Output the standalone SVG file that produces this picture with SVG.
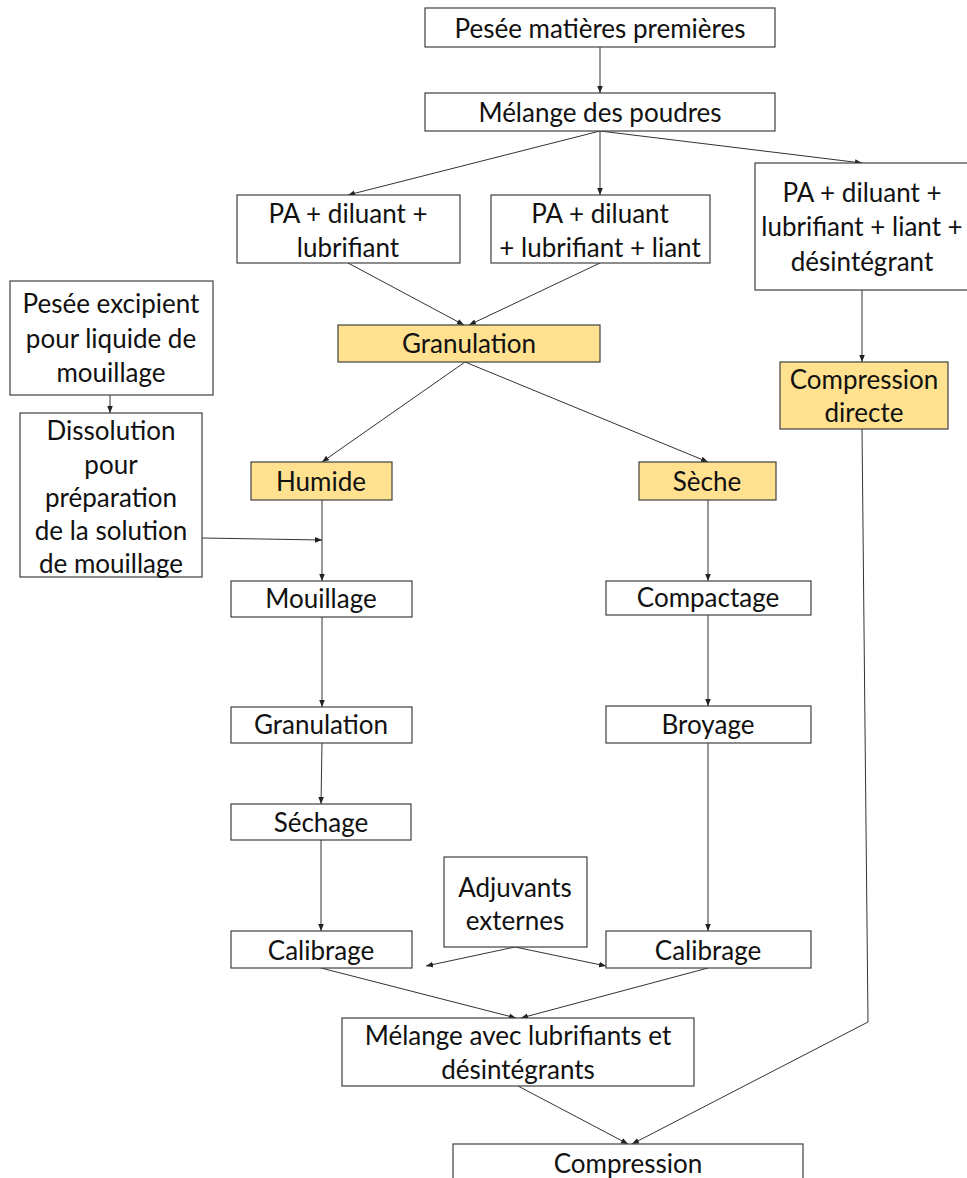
<svg xmlns="http://www.w3.org/2000/svg" width="967" height="1178" viewBox="0 0 967 1178">
<style>
.b{fill:#fff;stroke:#404040;stroke-width:1.2}
.y{fill:#FFE18F;stroke:#404040;stroke-width:1.2}
text{font-family:Lato,"Open Sans","Liberation Sans",sans-serif;font-size:26px;fill:#111;text-anchor:middle;dominant-baseline:central}
.c path,.c line,.c polyline{stroke:#333;stroke-width:1;fill:none;marker-end:url(#a)}
</style>
<defs>
<marker id="a" viewBox="0 0 10 10" refX="10" refY="5" markerWidth="7" markerHeight="7" markerUnits="userSpaceOnUse" orient="auto">
<path d="M0,1 L10,5 L0,9 z" fill="#222"/>
</marker>
</defs>
<rect width="967" height="1178" fill="#fff"/>
<g class="c" id="connectors">
<line x1="600" y1="47" x2="600" y2="93"/>
<line x1="600" y1="131" x2="348" y2="195"/>
<line x1="600" y1="131" x2="600" y2="195"/>
<line x1="600" y1="131" x2="862" y2="163"/>
<line x1="348" y1="263" x2="464" y2="325"/>
<line x1="600" y1="263" x2="469" y2="325"/>
<line x1="862" y1="290" x2="862" y2="362"/>
<line x1="465" y1="362" x2="322" y2="462"/>
<line x1="465" y1="362" x2="708" y2="462"/>
<line x1="110" y1="395" x2="110" y2="413"/>
<line x1="202" y1="538" x2="322" y2="540"/>
<line x1="322" y1="500" x2="322" y2="581"/>
<line x1="708" y1="500" x2="708" y2="581"/>
<line x1="322" y1="617" x2="322" y2="707"/>
<line x1="708" y1="615" x2="708" y2="706"/>
<line x1="322" y1="743" x2="321" y2="804"/>
<line x1="708" y1="743" x2="708" y2="931"/>
<line x1="321" y1="840" x2="321" y2="931"/>
<line x1="321" y1="968" x2="516" y2="1018"/>
<line x1="708" y1="968" x2="521" y2="1018"/>
<line x1="515" y1="947" x2="426" y2="966"/>
<line x1="515" y1="947" x2="606" y2="966"/>
<line x1="518" y1="1086" x2="628" y2="1144"/>
<polyline points="862,429 868,1022 632,1144"/>
</g>
<g id="n1"><rect class="b" x="425" y="8" width="350" height="39"/><text x="600" y="28">Pesée matières premières</text></g>
<g id="n2"><rect class="b" x="425" y="93" width="350" height="38"/><text x="600" y="112">Mélange des poudres</text></g>
<g id="n3"><rect class="b" x="237" y="195" width="223" height="68"/><text x="348" y="213">PA + diluant +</text><text x="348" y="247">lubrifiant</text></g>
<g id="n4"><rect class="b" x="491" y="195" width="219" height="68"/><text x="600" y="213">PA + diluant</text><text x="600" y="247">+ lubrifiant + liant</text></g>
<g id="n5"><rect class="b" x="755" y="163" width="215" height="127"/><text x="862" y="192">PA + diluant +</text><text x="862" y="226">lubrifiant + liant +</text><text x="862" y="261">désintégrant</text></g>
<g id="n6"><rect class="y" x="338" y="325" width="262" height="37"/><text x="469" y="343">Granulation</text></g>
<g id="n7"><rect class="b" x="10" y="281" width="203" height="114"/><text x="111" y="303">Pesée excipient</text><text x="111" y="338">pour liquide de</text><text x="111" y="372">mouillage</text></g>
<g id="n8"><rect class="b" x="20" y="413" width="182" height="164"/><text x="111" y="430">Dissolution</text><text x="111" y="464">pour</text><text x="111" y="497">préparation</text><text x="111" y="530">de la solution</text><text x="111" y="563">de mouillage</text></g>
<g id="n9"><rect class="y" x="780" y="362" width="168" height="67"/><text x="864" y="379">Compression</text><text x="864" y="412">directe</text></g>
<g id="n10"><rect class="y" x="251" y="462" width="141" height="38"/><text x="321" y="481">Humide</text></g>
<g id="n11"><rect class="y" x="639" y="462" width="137" height="38"/><text x="707" y="481">Sèche</text></g>
<g id="n12"><rect class="b" x="231" y="581" width="181" height="36"/><text x="321" y="598">Mouillage</text></g>
<g id="n13"><rect class="b" x="606" y="581" width="205" height="34"/><text x="708" y="597">Compactage</text></g>
<g id="n14"><rect class="b" x="231" y="707" width="181" height="36"/><text x="321" y="724">Granulation</text></g>
<g id="n15"><rect class="b" x="606" y="706" width="205" height="37"/><text x="708" y="724">Broyage</text></g>
<g id="n16"><rect class="b" x="231" y="804" width="180" height="36"/><text x="321" y="822">Séchage</text></g>
<g id="n17"><rect class="b" x="444" y="857" width="143" height="90"/><text x="515" y="887">Adjuvants</text><text x="515" y="920">externes</text></g>
<g id="n18"><rect class="b" x="231" y="931" width="181" height="37"/><text x="321" y="950">Calibrage</text></g>
<g id="n19"><rect class="b" x="606" y="931" width="205" height="37"/><text x="708" y="950">Calibrage</text></g>
<g id="n20"><rect class="b" x="342" y="1018" width="352" height="68"/><text x="518" y="1035">Mélange avec lubrifiants et</text><text x="518" y="1069">désintégrants</text></g>
<g id="n21"><rect class="b" x="453" y="1144" width="350" height="44"/><text x="628" y="1163">Compression</text></g>
</svg>
